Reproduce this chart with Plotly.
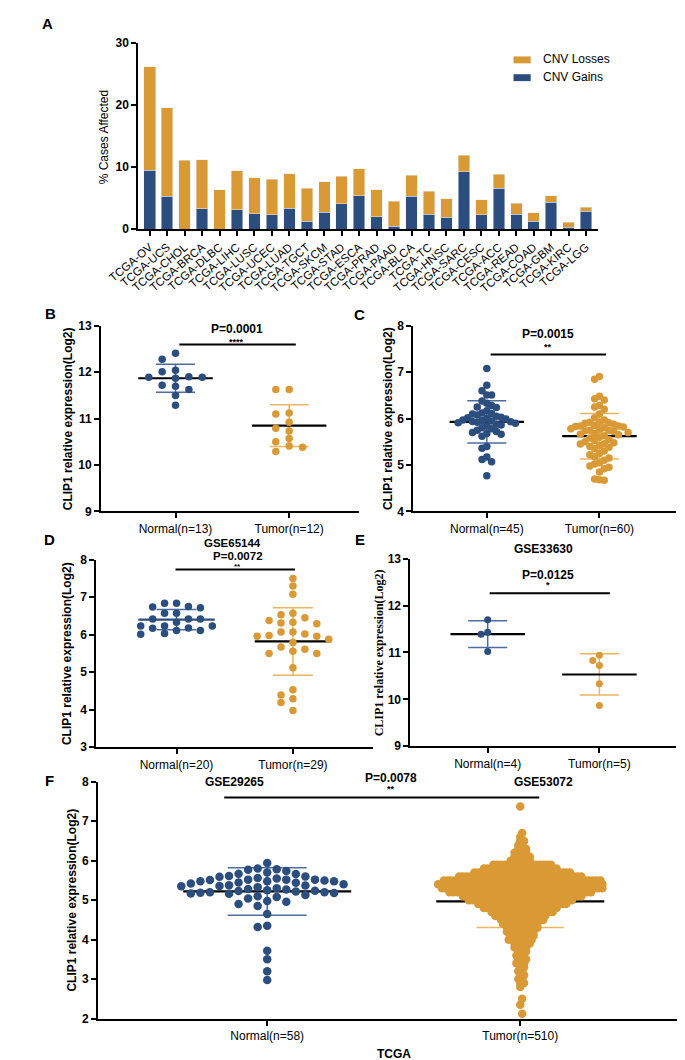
import plotly.graph_objects as go

W, H = 685, 1060
FONT = "Liberation Sans, Arial, Helvetica, sans-serif"
NARROW = "Liberation Sans Narrow, Arial Narrow, Liberation Sans, Arial, sans-serif"
SERIF = "Liberation Serif, Times New Roman, serif"
BLUE = "#2c4e7f"
ORANGE = "#d99a35"
BLUE_ERR = "#4d6d9e"
ORANGE_ERR = "#ebb65e"

# ---- panel A: CNV frequency per cancer type ----
cancers = ["TCGA-OV", "TCGA-UCS", "TCGA-CHOL", "TCGA-BRCA", "TCGA-DLBC", "TCGA-LIHC",
           "TCGA-LUSC", "TCGA-UCEC", "TCGA-LUAD", "TCGA-TGCT", "TCGA-SKCM", "TCGA-STAD",
           "TCGA-ESCA", "TCGA-PRAD", "TCGA-PAAD", "TCGA-BLCA", "TCGA-TC", "TCGA-HNSC",
           "TCGA-SARC", "TCGA-CESC", "TCGA-ACC", "TCGA-READ", "TCGA-COAD", "TCGA-GBM",
           "TCGA-KIRC", "TCGA-LGG"]
cnv_gains = [9.5, 5.3, 0.0, 3.3, 0.0, 3.1, 2.5, 2.3, 3.4, 1.3, 2.7, 4.1, 5.4,
             2.0, 0.5, 5.3, 2.4, 1.9, 9.2, 2.3, 6.6, 2.4, 1.3, 4.3, 0.3, 2.9]
cnv_losses = [16.6, 14.2, 11.1, 7.9, 6.3, 6.3, 5.8, 5.7, 5.5, 5.3, 4.9, 4.4, 4.3,
              4.3, 4.0, 3.4, 3.7, 3.0, 2.7, 2.4, 2.2, 1.8, 1.3, 1.1, 0.8, 0.6]

# ---- panel B ----
b_normal = [12.41, 12.28, 12.04, 12.01, 11.90, 11.89, 11.89, 11.87, 11.70, 11.72, 11.63, 11.50, 11.29]
b_tumor = [11.63, 11.63, 11.10, 11.12, 10.92, 10.79, 10.73, 10.57, 10.50, 10.41, 10.38, 10.29]
b_stats = {"normal": (11.87, 0.30), "tumor": (10.85, 0.45)}

# ---- panel C ----
c_normal = [7.08, 6.72, 6.60, 6.51, 6.51, 6.38, 6.33, 6.28, 6.25, 6.24, 6.17, 6.12, 6.11, 6.10,
            6.08, 6.05, 6.03, 6.02, 6.00, 5.99, 5.97, 5.96, 5.95, 5.94, 5.93, 5.92, 5.91, 5.90,
            5.88, 5.86, 5.84, 5.80, 5.78, 5.75, 5.72, 5.70, 5.68, 5.66, 5.62, 5.40, 5.36, 5.17,
            5.12, 5.07, 4.77]
c_tumor = [6.91, 6.85, 6.48, 6.43, 6.40, 6.28, 6.25, 6.20, 6.10, 6.02, 5.97, 5.92, 5.92, 5.91,
           5.90, 5.88, 5.85, 5.84, 5.84, 5.83, 5.82, 5.80, 5.78, 5.76, 5.75, 5.75, 5.74, 5.72,
           5.70, 5.68, 5.66, 5.65, 5.63, 5.60, 5.58, 5.55, 5.52, 5.50, 5.48, 5.46, 5.45, 5.42,
           5.40, 5.38, 5.35, 5.30, 5.25, 5.22, 5.18, 5.15, 5.10, 5.05, 5.02, 4.98, 4.95, 4.92,
           4.85, 4.70, 4.68, 4.67]
c_stats = {"normal": (5.93, 0.455), "tumor": (5.62, 0.49)}

# ---- panel D (GSE65144) ----
d_normal = [6.84, 6.84, 6.75, 6.72, 6.74, 6.57, 6.57, 6.42, 6.42, 6.42, 6.33, 6.23, 6.18,
            6.23, 6.23, 6.17, 6.11, 6.11, 6.03, 6.01]
d_tumor = [7.50, 7.30, 7.08, 6.57, 6.53, 6.45, 6.38, 6.33, 6.31, 6.29, 6.07, 6.07, 6.02, 5.98,
           5.96, 5.96, 5.88, 5.79, 5.67, 5.61, 5.56, 5.50, 5.50, 5.12, 4.53, 4.39, 4.29, 4.19, 3.98]
d_stats = {"normal": (6.40, 0.27), "tumor": (5.82, 0.90)}

# ---- panel E (GSE33630) ----
e_normal = [11.70, 11.43, 11.39, 11.02]
e_tumor = [10.94, 10.83, 10.72, 10.33, 9.87]
e_stats = {"normal": (11.39, 0.285), "tumor": (10.53, 0.44)}

# ---- panel F (GSE29265 / GSE53072 / TCGA) ----
f_normal = [5.94, 5.80, 5.78, 5.77, 5.74, 5.70, 5.67, 5.66, 5.61, 5.60, 5.59, 5.56, 5.55, 5.52,
            5.52, 5.52, 5.51, 5.50, 5.48, 5.48, 5.48, 5.45, 5.44, 5.42, 5.40, 5.38, 5.37, 5.36,
            5.35, 5.33, 5.30, 5.28, 5.27, 5.25, 5.24, 5.23, 5.22, 5.20, 5.20, 5.19, 5.18, 5.17,
            5.16, 5.13, 5.10, 5.08, 5.04, 4.98, 4.96, 4.90, 4.85, 4.65, 4.35, 4.32, 3.72, 3.50,
            3.20, 2.98]
# tumour group read as a frequency table (value level, number of dots)
f_tumor_levels = [7.37, 6.7, 6.6, 6.5, 6.4, 6.3, 6.2, 6.1, 6.0, 5.9, 5.8, 5.7, 5.6, 5.5, 5.4,
                  5.3, 5.2, 5.1, 5.0, 4.9, 4.8, 4.7, 4.6, 4.5, 4.4, 4.3, 4.2, 4.1, 4.0, 3.9,
                  3.8, 3.7, 3.6, 3.5, 3.4, 3.3, 3.2, 3.1, 3.0, 2.9, 2.8, 2.5, 2.35, 2.12]
f_tumor_counts = [1, 1, 1, 2, 2, 3, 4, 5, 6, 16, 20, 26, 33, 42, 44,
                  43, 38, 32, 28, 24, 20, 17, 14, 12, 10, 9, 8, 7, 7, 5,
                  4, 3, 3, 3, 3, 2, 2, 2, 2, 2, 1, 1, 1, 1]
f_stats = {"normal": (5.22, 0.60), "tumor": (4.97, 0.66)}


def px(x, y):
    return x / W, 1 - y / H


# subplot boxes in pixels: left, right, top, bottom, x-range, y-range
panels = {
    "B": dict(box=(65, 335, 315, 503), xr=(0.345, 2.613), yr=(9, 13)),
    "C": dict(box=(392, 667, 315, 503), xr=(0.347, 2.678), yr=(4, 8)),
    "D": dict(box=(60, 350, 552, 742), xr=(0.311, 2.689), yr=(3, 8)),
    "E": dict(box=(389, 667, 551, 741), xr=(0.308, 2.684), yr=(9, 13)),
    "F": dict(box=(62, 684, 777, 1017), xr=(0.332, 2.679), yr=(2, 8)),
}


def scale(p):
    l, r, t, b = p["box"]
    ppx = (r - l) / (p["xr"][1] - p["xr"][0])
    ppy = (b - t) / (p["yr"][1] - p["yr"][0])
    return ppx, ppy


def swarm(vals, center, diam, step, ppx, ppy):
    cols = [0]
    for j in range(1, 60):
        cols += [-j, j]
    placed = {}
    xs = [center] * len(vals)
    for i in sorted(range(len(vals)), key=lambda k: -vals[k]):
        y = vals[i] * ppy
        for c in cols:
            if all(abs(y - q) >= diam for q in placed.get(c, [])):
                break
        placed.setdefault(c, []).append(y)
        xs[i] = center + c * step / ppx
    return xs


fig = go.Figure()

# panel A bars
fig.add_trace(go.Bar(x=cancers, y=cnv_gains, name="CNV Gains", marker_color=BLUE,
                     width=0.66, xaxis="x", yaxis="y", showlegend=False))
fig.add_trace(go.Bar(x=cancers, y=cnv_losses, name="CNV Losses", marker_color=ORANGE,
                     width=0.66, xaxis="x", yaxis="y", showlegend=False))

axis_style = dict(showline=True, linecolor="black", linewidth=2, ticks="outside",
                  tickwidth=2, ticklen=5, tickcolor="black", showgrid=False,
                  zeroline=False, fixedrange=True)

layout = dict(
    width=W, height=H, margin=dict(l=0, r=0, t=0, b=0), autosize=False,
    paper_bgcolor="white", plot_bgcolor="white", barmode="stack", showlegend=False,
    font=dict(family=FONT, color="black", size=12),
    xaxis=dict(domain=[104 / W, 586 / W], anchor="y", range=[-0.656, 25.71],
               tickangle=-40, tickfont=dict(size=11.5), **axis_style),
    yaxis=dict(domain=[1 - 217 / H, 1 - 28 / H], anchor="x", range=[0, 30], dtick=10,
               tickfont=dict(size=12, weight="bold"), **axis_style),
)

groups = {
    "B": (b_normal, b_tumor, b_stats, ["Normal(n=13)", "Tumor(n=12)"], 7.5, (14, 14), FONT),
    "C": (c_normal, c_tumor, c_stats, ["Normal(n=45)", "Tumor(n=60)"], 7.5, (5, 5), FONT),
    "D": (d_normal, d_tumor, d_stats, ["Normal(n=20)", "Tumor(n=29)"], 7.5, (12.5, 12.5), NARROW),
    "E": (e_normal, e_tumor, e_stats, ["Normal(n=4)", "Tumor(n=5)"], 7, (7, 7), NARROW),
    "F": (f_normal, None, f_stats, ["Normal(n=58)", "Tumor(n=510)"], 8.5, (10, 4), NARROW),
}
mean_half = {"B": 39, "C": 39, "D": 40, "E": 39, "F": 88}
cap_half = {"B": 19.5, "C": 19.5, "D": 20, "E": 19.5, "F": (39.5, 43.5)}

for n, key in enumerate(["B", "C", "D", "E", "F"]):
    idx = n + 2
    xa, ya = "x%d" % idx, "y%d" % idx
    p = panels[key]
    l, r, t, b = p["box"]
    ppx, ppy = scale(p)
    normal, tumor, stats, labels, msize, steps, tfont = groups[key]
    layout["xaxis%d" % idx] = dict(domain=[l / W, r / W], anchor=ya, range=list(p["xr"]),
                                   tickvals=[1, 2], ticktext=labels,
                                   tickfont=dict(size=12, family=tfont), **axis_style)
    layout["yaxis%d" % idx] = dict(domain=[1 - b / H, 1 - t / H], anchor=xa,
                                   range=list(p["yr"]), dtick=1,
                                   tickfont=dict(size=12, weight="bold"), **axis_style)

    # error bars (mean +/- SD) and mean lines, behind dots
    for gi, (grp, errc) in enumerate([("normal", BLUE_ERR), ("tumor", ORANGE_ERR)]):
        m, sd = stats[grp]
        cx = gi + 1
        ch = cap_half[key][gi] if isinstance(cap_half[key], tuple) else cap_half[key]
        fig.add_trace(go.Scatter(x=[cx], y=[m], mode="markers", xaxis=xa, yaxis=ya,
                                 marker=dict(size=1, color="rgba(0,0,0,0)"),
                                 error_y=dict(type="data", array=[sd], color=errc,
                                              thickness=1.5, width=ch),
                                 hoverinfo="skip"))
        mcol = BLUE if (key == "D" and grp == "normal") else "black"
        dx = mean_half[key] / ppx
        fig.add_trace(go.Scatter(x=[cx - dx, cx + dx], y=[m, m], mode="lines",
                                 xaxis=xa, yaxis=ya, line=dict(color=mcol, width=2.2),
                                 hoverinfo="skip"))

    nx = swarm(normal, 1, msize, steps[0], ppx, ppy)
    fig.add_trace(go.Scatter(x=nx, y=normal, mode="markers", xaxis=xa, yaxis=ya,
                             marker=dict(size=msize, color=BLUE), hoverinfo="y"))
    if tumor is not None:
        tx = swarm(tumor, 2, msize, steps[1], ppx, ppy)
        ty = tumor
    else:
        tx, ty = [], []
        for row, (lev, cnt) in enumerate(zip(f_tumor_levels, f_tumor_counts)):
            shift = (row % 2) * 0.5
            for i in range(cnt):
                tx.append(2 + (i - (cnt - 1) / 2 + shift) * steps[1] / ppx)
                ty.append(lev)
    fig.add_trace(go.Scatter(x=tx, y=ty, mode="markers", xaxis=xa, yaxis=ya,
                             marker=dict(size=msize, color=ORANGE), hoverinfo="y"))

annotations = []
shapes = []


def text(x, y, s, size=12, angle=0, family=FONT, bold=True):
    ax, ay = px(x, y)
    annotations.append(dict(x=ax, y=ay, xref="paper", yref="paper", showarrow=False,
                            text="<b>%s</b>" % s if bold else s, textangle=angle,
                            font=dict(size=size, family=family, color="black"),
                            xanchor="center", yanchor="middle"))


def hline(x0, x1, y, color="black", width=2):
    a0, b0 = px(x0, y)
    a1, _ = px(x1, y)
    shapes.append(dict(type="line", xref="paper", yref="paper", x0=a0, x1=a1, y0=b0, y1=b0,
                       line=dict(color=color, width=width)))


def rect(x0, x1, y0, y1, color):
    a0, b0 = px(x0, y0)
    a1, b1 = px(x1, y1)
    shapes.append(dict(type="rect", xref="paper", yref="paper", x0=a0, x1=a1, y0=b0, y1=b1,
                       fillcolor=color, line=dict(width=0)))


# panel letters
for letter, (x, y) in {"A": (9, 9), "B": (12, 303), "C": (336, 304), "D": (11, 532),
                       "E": (336, 532), "F": (11, 776)}.items():
    text(x, y, letter, size=15)

# panel A legend and axis title
rect(497, 515, 42, 49, ORANGE)
rect(497, 515, 60, 67, BLUE)
annotations.append(dict(x=526 / W, y=1 - 45 / H, xref="paper", yref="paper", showarrow=False,
                        text="CNV Losses", xanchor="left", yanchor="middle",
                        font=dict(size=12, family=FONT)))
annotations.append(dict(x=526 / W, y=1 - 63 / H, xref="paper", yref="paper", showarrow=False,
                        text="CNV Gains", xanchor="left", yanchor="middle",
                        font=dict(size=12, family=FONT)))
text(68, 123, "% Cases Affected", size=12, angle=-90, bold=False)

ytitle = "CLIP1 relative expression(Log2)"
text(30, 409, ytitle, angle=-90)
text(365, 409, ytitle, angle=-90)
text(30, 647, ytitle, angle=-90)
text(357, 646, ytitle, angle=-90, family=SERIF)
text(35, 897, ytitle, angle=-90)

# significance labels
text(207, 318, "P=0.0001")
text(207, 331, "****", size=9)
hline(147, 269, 334)
text(533, 323, "P=0.0015")
text(533, 336, "**", size=9)
hline(473, 594, 344)
text(203, 535, "GSE65144", size=11.5)
text(208, 548, "P=0.0072", size=11.5)
text(208, 559, "**", size=8)
hline(143, 268, 562)
text(528, 541, "GSE33630")
text(533, 567, "P=0.0125")
text(533, 578, "*", size=9)
hline(472, 598, 586)
text(205, 777, "GSE29265")
text(369, 773, "P=0.0078")
text(369, 784, "**", size=9)
hline(194, 524, 793)
text(528, 777, "GSE53072")
text(372, 1053, "TCGA")

layout["annotations"] = annotations
layout["shapes"] = shapes
fig.update_layout(**layout)
fig.write_html("out.html")
